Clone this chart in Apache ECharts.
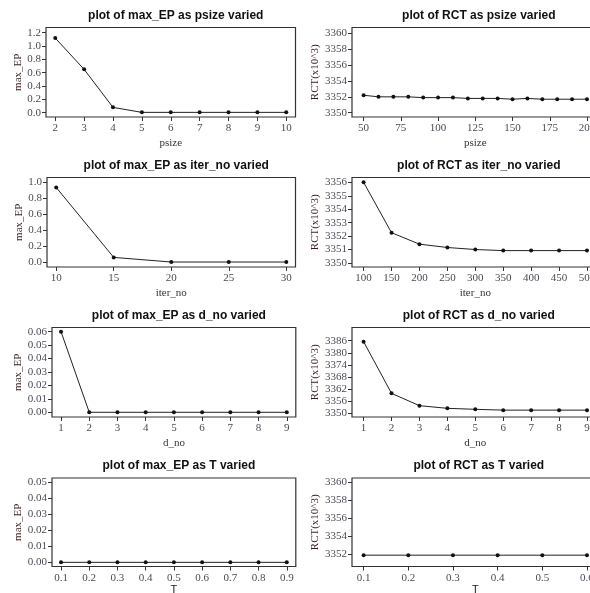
<!DOCTYPE html>
<html><head><meta charset="utf-8">
<script src="https://cdn.jsdelivr.net/npm/echarts@6/dist/echarts.min.js"></script>
<style>html,body{margin:0;padding:0;background:#fff;}#c{width:590px;height:593px;}</style>
</head><body><div id="c"></div>
<script>
// ---- data ----
const psizeSmall = [2, 3, 4, 5, 6, 7, 8, 9, 10];
const maxEPbyPsize = [1.12, 0.65, 0.08, 0.005, 0.005, 0.005, 0.005, 0.005, 0.005];
const psizeLarge = [50, 60, 70, 80, 90, 100, 110, 120, 130, 140, 150, 160, 170, 180, 190, 200];
const rctByPsize = [3352.2, 3352.0, 3352.0, 3352.0, 3351.9, 3351.9, 3351.9, 3351.8, 3351.8, 3351.8, 3351.7, 3351.8, 3351.7, 3351.7, 3351.7, 3351.7];
const iterSmall = [10, 15, 20, 25, 30];
const maxEPbyIter = [0.935, 0.058, 0.0, 0.0, 0.0];
const iterLarge = [100, 150, 200, 250, 300, 350, 400, 450, 500];
const rctByIter = [3356.0, 3352.25, 3351.4, 3351.15, 3351.0, 3350.92, 3350.92, 3350.92, 3350.92];
const dNo = [1, 2, 3, 4, 5, 6, 7, 8, 9];
const maxEPbyD = [0.06, 0.0, 0.0, 0.0, 0.0, 0.0, 0.0, 0.0, 0.0];
const rctByD = [3385.5, 3359.9, 3353.8, 3352.5, 3352.0, 3351.6, 3351.6, 3351.6, 3351.6];
const tLeft = [0.1, 0.2, 0.3, 0.4, 0.5, 0.6, 0.7, 0.8, 0.9];
const maxEPbyT = [0, 0, 0, 0, 0, 0, 0, 0, 0];
const tRight = [0.1, 0.2, 0.3, 0.4, 0.5, 0.6];
const rctByT = [3351.9, 3351.9, 3351.9, 3351.9, 3351.9, 3351.9];

// tick labels
const xt1L = [2, 3, 4, 5, 6, 7, 8, 9, 10];
const yt1L = [0.0, 0.2, 0.4, 0.6, 0.8, 1.0, 1.2];
const xt1R = [50, 75, 100, 125, 150, 175, 200];
const yt1R = [3350, 3352, 3354, 3356, 3358, 3360];
const xt2L = [10, 15, 20, 25, 30];
const yt2L = [0.0, 0.2, 0.4, 0.6, 0.8, 1.0];
const xt2R = [100, 150, 200, 250, 300, 350, 400, 450, 500];
const yt2R = [3350, 3351, 3352, 3353, 3354, 3355, 3356];
const xt3 = [1, 2, 3, 4, 5, 6, 7, 8, 9];
const yt3L = [0.00, 0.01, 0.02, 0.03, 0.04, 0.05, 0.06];
const yt3R = [3350, 3356, 3362, 3368, 3374, 3380, 3386];
const xt4L = [0.1, 0.2, 0.3, 0.4, 0.5, 0.6, 0.7, 0.8, 0.9];
const yt4L = [0.00, 0.01, 0.02, 0.03, 0.04, 0.05];
const xt4R = [0.1, 0.2, 0.3, 0.4, 0.5, 0.6];
const yt4R = [3352, 3354, 3356, 3358, 3360];

// ---- panel layout ----
const panels = [
  {title:'plot of max_EP as psize varied', x:psizeSmall, y:maxEPbyPsize, xt:xt1L, yt:yt1L, xd:0, yd:1, xn:'psize', yn:'max_EP',
   grid:{left:46, top:27.5, width:249.5, height:89.5}, xr:[1.68,10.32], yr:[-0.0645,1.278], yGap:17},
  {title:'plot of RCT as psize varied', x:psizeLarge, y:rctByPsize, xt:xt1R, yt:yt1R, xd:0, yd:0, xn:'psize', yn:'RCT(x10^3)',
   grid:{left:352, top:27.5, width:246.6, height:89.5}, xr:[42.2,207.8], yr:[3349.46,3360.73], yGap:23},
  {title:'plot of max_EP as iter_no varied', x:iterSmall, y:maxEPbyIter, xt:xt2L, yt:yt2L, xd:0, yd:1, xn:'iter_no', yn:'max_EP',
   grid:{left:47, top:177.5, width:248.5, height:89.5}, xr:[9.2,30.8], yr:[-0.0625,1.06], yGap:18},
  {title:'plot of RCT as iter_no varied', x:iterLarge, y:rctByIter, xt:xt2R, yt:yt2R, xd:0, yd:0, xn:'iter_no', yn:'RCT(x10^3)',
   grid:{left:352, top:177.5, width:246.6, height:89.5}, xr:[79.2,520.8], yr:[3349.7,3356.36], yGap:23},
  {title:'plot of max_EP as d_no varied', x:dNo, y:maxEPbyD, xt:xt3, yt:yt3L, xd:0, yd:2, xn:'d_no', yn:'max_EP',
   grid:{left:52, top:327.5, width:243.8, height:89.5}, xr:[0.68,9.32], yr:[-0.0035,0.0631], yGap:23},
  {title:'plot of RCT as d_no varied', x:dNo, y:rctByD, xt:xt3, yt:yt3R, xd:0, yd:0, xn:'d_no', yn:'RCT(x10^3)',
   grid:{left:352, top:327.5, width:246.6, height:89.5}, xr:[0.585,9.415], yr:[3348.2,3392.5], yGap:23},
  {title:'plot of max_EP as T varied', x:tLeft, y:maxEPbyT, xt:xt4L, yt:yt4L, xd:1, yd:2, xn:'T', yn:'max_EP',
   grid:{left:52, top:478, width:243.8, height:88.5}, xr:[0.068,0.932], yr:[-0.0026,0.0527], yGap:23},
  {title:'plot of RCT as T varied', x:tRight, y:rctByT, xt:xt4R, yt:yt4R, xd:1, yd:0, xn:'T', yn:'RCT(x10^3)',
   grid:{left:352, top:478, width:246.6, height:88.5}, xr:[0.074,0.626], yr:[3350.64,3360.48], yGap:23}
];

const labelFont = {fontFamily:'Liberation Serif', fontSize:11, color:'#4a4a5a'};
const option = {animation:false, backgroundColor:'#fff', title:[], grid:[], xAxis:[], yAxis:[], series:[]};

panels.forEach((p, i) => {
  const g = p.grid;
  option.title.push({text:p.title, left:g.left + g.width/2 - (i%2===1 ? 1.5 : 0), top:g.top - 23, textAlign:'center',
    textStyle:{fontFamily:'Liberation Sans', fontWeight:'bold', fontSize:12, color:'#111'}});
  option.grid.push({left:g.left, top:g.top, width:g.width, height:g.height, outerBoundsMode:'none', containLabel:false,
    show:true, borderColor:'#333', borderWidth:1.2, backgroundColor:'transparent'});
  option.xAxis.push({type:'value', gridIndex:i, min:p.xr[0], max:p.xr[1], splitLine:{show:false},
    axisLine:{show:false, onZero:false},
    axisTick:{show:true, length:4, lineStyle:{color:'#333'}, customValues:p.xt},
    axisLabel:Object.assign({margin:6, customValues:p.xt, formatter:v => Number(v).toFixed(p.xd)}, labelFont),
    name:p.xn, nameLocation:'middle', nameGap:p.xn === 'T' ? 16 : 21,
    nameTextStyle:{fontFamily:p.xn === 'T' ? 'Liberation Sans' : 'Liberation Serif', fontSize:11, color:p.xn === 'T' ? '#223' : '#333'}});
  option.yAxis.push({type:'value', gridIndex:i, min:p.yr[0], max:p.yr[1], splitLine:{show:false},
    axisLine:{show:false, onZero:false},
    axisTick:{show:true, length:4, lineStyle:{color:'#333'}, customValues:p.yt},
    axisLabel:Object.assign({margin:5, customValues:p.yt, formatter:v => Number(v).toFixed(p.yd)}, labelFont),
    name:p.yn, nameLocation:'middle', nameGap:p.yGap, nameRotate:90,
    nameTextStyle:{fontFamily:'Liberation Serif', fontSize:11, color:'#3a1a1a'}});
  option.series.push({type:'line', xAxisIndex:i, yAxisIndex:i, data:p.x.map((xv, k) => [xv, p.y[k]]),
    symbol:'circle', symbolSize:4, showSymbol:true,
    itemStyle:{color:'#111'}, lineStyle:{color:'#222', width:1}, clip:false});
});

const chart = echarts.init(document.getElementById('c'), null, {renderer:'canvas'});
chart.setOption(option);
</script>
</body></html>
